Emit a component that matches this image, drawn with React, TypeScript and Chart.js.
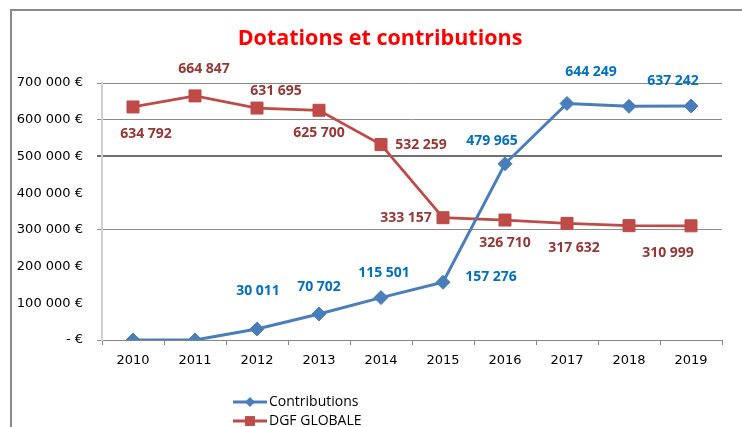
import React, { useEffect, useRef } from 'react';
import { Chart, registerables } from 'chart.js';

Chart.register(...registerables);

const years = ['2010', '2011', '2012', '2013', '2014', '2015', '2016', '2017', '2018', '2019'];
const contributions = [0, 0, 30011, 70702, 115501, 157276, 479965, 644249, 636500, 637242];
const dgfGlobale = [634792, 664847, 631695, 625700, 532259, 333157, 326710, 317632, 311500, 310999];
const yTickValues = [0, 100000, 200000, 300000, 400000, 500000, 600000, 700000];
const hiddenGridValues = [100000, 200000, 400000];

const contribLabelShown = [false, false, true, true, true, true, true, true, false, true];
const contribLabelOffsets: [number, number][] = [[0, 0], [0, 0], [1, -38], [0, -27], [3, -25], [48, -5], [-13, -23], [24, -31], [0, 0], [-18, -25]];
const dgfLabelShown = [true, true, true, true, true, true, true, true, false, true];
const dgfLabelOffsets: [number, number][] = [[13, 27], [9, -27], [19, -17], [0, 23], [40, 0], [-37, 0], [0, 23], [7, 25], [0, 0], [-23, 27]];

const BLUE = '#4A7EBB';
const RED = '#BE4B48';
const BLUE_LABEL = '#0070C0';
const RED_LABEL = '#953735';

const fmt = (n: number) => String(Math.round(n)).replace(/\B(?=(\d{3})+(?!\d))/g, ' ');

const decorPlugin = {
  id: 'decor',
  afterDatasetsDraw(chart: any) {
    const ctx = chart.ctx;
    ctx.save();
    ctx.font = 'bold 14px "Open Sans"';
    ctx.textAlign = 'center';
    ctx.textBaseline = 'middle';
    const sets = [
      { idx: 0, data: contributions, shown: contribLabelShown, off: contribLabelOffsets, color: BLUE_LABEL },
      { idx: 1, data: dgfGlobale, shown: dgfLabelShown, off: dgfLabelOffsets, color: RED_LABEL },
    ];
    sets.forEach((s) => {
      const meta = chart.getDatasetMeta(s.idx);
      ctx.fillStyle = s.color;
      meta.data.forEach((pt: any, i: number) => {
        if (!s.shown[i]) return;
        ctx.fillText(fmt(s.data[i]), pt.x + s.off[i][0], pt.y + s.off[i][1]);
      });
    });
    ctx.restore();
  },
  afterDraw(chart: any) {
    const ctx = chart.ctx;
    ctx.save();
    // frame
    ctx.strokeStyle = '#8a8a8a';
    ctx.lineWidth = 2;
    ctx.beginPath();
    ctx.moveTo(11, 427);
    ctx.lineTo(11, 10);
    ctx.lineTo(742, 10);
    ctx.stroke();
    // title
    ctx.fillStyle = '#FF0000';
    ctx.font = 'bold 21.5px "Open Sans"';
    ctx.textAlign = 'center';
    ctx.textBaseline = 'alphabetic';
    ctx.fillText('Dotations et contributions', 380, 45);
    // legend
    const items = [
      { label: 'Contributions', color: BLUE, y: 402, style: 'rectRot', r: 5 },
      { label: 'DGF GLOBALE', color: RED, y: 421, style: 'rect', r: 7 },
    ];
    items.forEach((it) => {
      ctx.strokeStyle = it.color;
      ctx.lineWidth = 3;
      ctx.beginPath();
      ctx.moveTo(233, it.y);
      ctx.lineTo(267, it.y);
      ctx.stroke();
      ctx.fillStyle = it.color;
      ctx.beginPath();
      if (it.style === 'rectRot') {
        ctx.moveTo(250 - it.r, it.y);
        ctx.lineTo(250, it.y - it.r);
        ctx.lineTo(250 + it.r, it.y);
        ctx.lineTo(250, it.y + it.r);
        ctx.closePath();
      } else {
        const h = it.r * Math.SQRT1_2;
        ctx.rect(250 - h, it.y - h, 2 * h, 2 * h);
      }
      ctx.fill();
      ctx.fillStyle = '#000';
      ctx.font = '14px "Open Sans"';
      ctx.textAlign = 'left';
      ctx.textBaseline = 'middle';
      ctx.fillText(it.label, 269, it.y);
    });
    ctx.restore();
  },
};

export default function App() {
  const ref = useRef<HTMLCanvasElement | null>(null);
  useEffect(() => {
    if (!ref.current) return;
    const chart = new Chart(ref.current, {
      type: 'line',
      data: {
        labels: years,
        datasets: [
          {
            label: 'Contributions',
            data: contributions,
            borderColor: BLUE,
            backgroundColor: BLUE,
            borderWidth: 3,
            pointStyle: 'rectRot',
            pointRadius: 7,
            pointBorderWidth: 1,
            pointBackgroundColor: BLUE,
            pointBorderColor: BLUE,
            tension: 0,
          },
          {
            label: 'DGF GLOBALE',
            data: dgfGlobale,
            borderColor: RED,
            backgroundColor: RED,
            borderWidth: 2.75,
            pointStyle: 'rect',
            pointRadius: 8.5,
            pointBorderWidth: 1,
            pointBackgroundColor: RED,
            pointBorderColor: RED,
            tension: 0,
          },
        ],
      },
      options: {
        animation: false,
        responsive: false,
        devicePixelRatio: 1,
        layout: { padding: { top: 83, right: 20, left: 0, bottom: 0 } },
        plugins: {
          legend: { display: false },
          title: { display: false },
          tooltip: { enabled: false },
        },
        scales: {
          x: {
            type: 'category',
            offset: true,
            grid: {
              offset: true,
              drawOnChartArea: false,
              drawTicks: true,
              tickLength: 5,
              color: '#868686',
            },
            border: { display: true, color: '#868686', width: 1 },
            ticks: {
              font: { family: 'DejaVu Sans', size: 13 },
              color: '#000',
              padding: 8,
              maxRotation: 0,
              autoSkip: false,
            },
            afterFit: (s: any) => {
              s.height = 87;
            },
          },
          y: {
            min: 0,
            max: 700000,
            afterBuildTicks: (s: any) => {
              s.ticks = yTickValues.map((v) => ({ value: v }));
            },
            ticks: {
              font: { family: 'DejaVu Sans', size: 13 },
              color: '#000',
              padding: 14,
              callback: (v: any) => (Number(v) === 0 ? '- €' : fmt(Number(v)) + ' €'),
            },
            grid: {
              drawTicks: true,
              tickLength: 5,
              color: (c: any) => {
                const v = c.tick ? c.tick.value : null;
                if (v !== null && hiddenGridValues.includes(v)) return 'rgba(0,0,0,0)';
                return v === 500000 ? '#707070' : '#8a8a8a';
              },
              lineWidth: (c: any) => (c.tick && c.tick.value === 500000 ? 2 : 1),
            },
            border: { display: true, color: '#d0d0d0', width: 2 },
            afterFit: (s: any) => {
              s.width = 102;
            },
          },
        },
      },
      plugins: [decorPlugin],
    });
    return () => chart.destroy();
  }, []);
  return (
    <div style={{ position: 'fixed', left: 0, top: 0, width: 742, height: 427, background: '#fff' }}>
      <canvas ref={ref} width={742} height={427} style={{ width: 742, height: 427, display: 'block' }} />
    </div>
  );
}
